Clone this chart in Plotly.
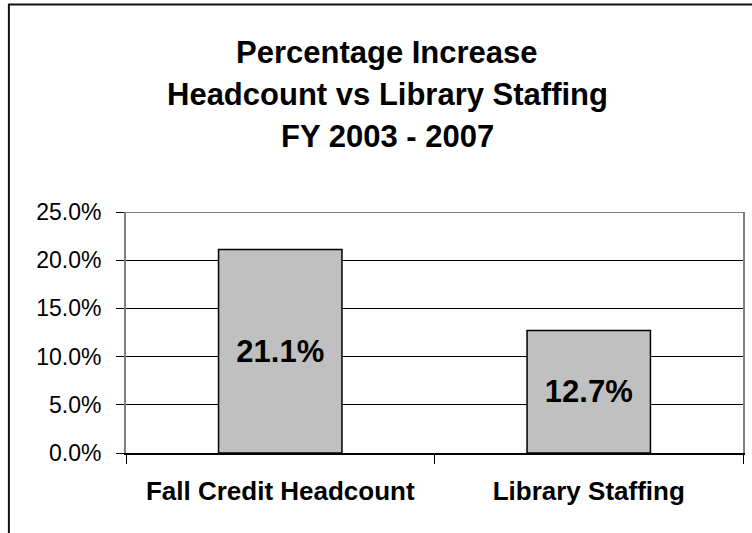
import plotly.graph_objects as go

# Chart data
categories = ["Fall Credit Headcount", "Library Staffing"]
pct_increase = [21.1, 12.7]
value_labels = ["21.1%", "12.7%"]
y_ticks = [0, 5, 10, 15, 20, 25]
y_tick_text = ["0.0%", "5.0%", "10.0%", "15.0%", "20.0%", "25.0%"]
title_lines = ["Percentage Increase", "Headcount vs Library Staffing", "FY 2003 - 2007"]

FONT = "Arial, 'Liberation Sans', sans-serif"
W, H = 752, 533
ML, MR, MT, MB = 126, 7, 212, 80
plot_w = W - ML - MR
plot_h = H - MT - MB


def px_to_paper_y(py):
    return (H - MB - py) / plot_h


def px_to_paper_x(px):
    return (px - ML) / plot_w


fig = go.Figure()
fig.add_trace(go.Bar(
    x=categories,
    y=pct_increase,
    text=value_labels,
    textposition="inside",
    insidetextanchor="middle",
    textangle=0,
    textfont=dict(family=FONT, size=31, color="black", weight="bold"),
    marker=dict(color="#C0C0C0", line=dict(color="black", width=1.5)),
    width=0.4,
    hoverinfo="skip",
))

# Three-line chart title
title_centers = [53, 95, 136]
annotations = []
for line, cy in zip(title_lines, title_centers):
    annotations.append(dict(
        text="<b>%s</b>" % line,
        xref="paper", yref="paper",
        x=px_to_paper_x(388), y=px_to_paper_y(cy),
        xanchor="center", yanchor="middle",
        showarrow=False,
        font=dict(family=FONT, size=31, color="black"),
    ))

shapes = [
    # chart-area border (left and top edges)
    dict(type="line", xref="paper", yref="paper",
         x0=px_to_paper_x(8), x1=px_to_paper_x(760),
         y0=px_to_paper_y(4.5), y1=px_to_paper_y(4.5),
         line=dict(color="#111", width=2)),
    dict(type="line", xref="paper", yref="paper",
         x0=px_to_paper_x(8.5), x1=px_to_paper_x(8.5),
         y0=px_to_paper_y(4), y1=px_to_paper_y(540),
         line=dict(color="#111", width=2)),
    # grey top edge of the plot frame
    dict(type="line", xref="paper", yref="y",
         x0=0, x1=1, y0=25, y1=25,
         line=dict(color="#808080", width=2)),
]

fig.update_layout(
    width=W, height=H,
    margin=dict(l=ML, r=MR, t=MT, b=MB),
    paper_bgcolor="white",
    plot_bgcolor="white",
    showlegend=False,
    annotations=annotations,
    shapes=shapes,
    font=dict(family=FONT, color="black"),
    xaxis=dict(
        type="category",
        showline=True, linecolor="black", linewidth=1.5,
        ticks="outside", tickson="boundaries", ticklen=9,
        tickcolor="black", tickwidth=1,
        tickfont=dict(family=FONT, size=26, color="black", weight="bold"),
        ticklabelstandoff=14,
        showgrid=False,
        fixedrange=True,
    ),
    yaxis=dict(
        range=[0, 25],
        tickvals=y_ticks,
        ticktext=y_tick_text,
        showline=True, linecolor="#808080", linewidth=2, mirror=True,
        ticks="outside", ticklen=8, tickcolor="black", tickwidth=1,
        tickfont=dict(family=FONT, size=23, color="black"),
        ticklabelstandoff=10,
        showgrid=True, gridcolor="black", gridwidth=1,
        zeroline=False,
        fixedrange=True,
    ),
)

fig.write_html("out.html")
